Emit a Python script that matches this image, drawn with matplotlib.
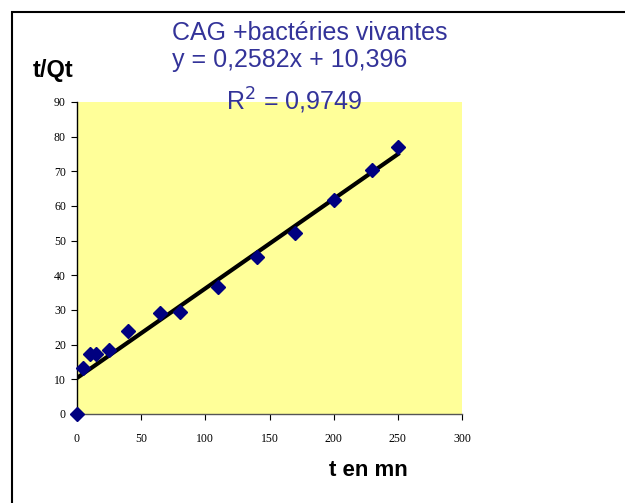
import matplotlib

matplotlib.use("Agg")
import matplotlib.pyplot as plt
from matplotlib.patches import Rectangle

# data
t_min = [0, 5, 10, 15, 25, 40, 65, 80, 110, 140, 170, 200, 230, 250]
t_over_qt = [0, 13.2, 17.2, 17.2, 18.6, 24.0, 29.0, 29.3, 36.5, 45.2, 52.3, 61.7, 70.4, 77.1]
slope = 0.2582
intercept = 10.396
fit_x = [0, 250]
x_ticks = [0, 50, 100, 150, 200, 250, 300]
y_ticks = [0, 10, 20, 30, 40, 50, 60, 70, 80, 90]

text_color = "#333399"

fig = plt.figure(figsize=(6.25, 5.03), dpi=100)
fig.patch.set_facecolor("white")

# outer frame (partly off the picture on right / bottom)
fig.add_artist(Rectangle((12 / 625, -0.1), 1.2, 1 - 12 / 503 + 0.1,
                         transform=fig.transFigure, fill=False,
                         edgecolor="black", linewidth=1.5))

ax = fig.add_axes([77 / 625, 89 / 503, 385 / 625, 312 / 503])
ax.set_facecolor("#FFFF99")
ax.set_xlim(0, 300)
ax.set_ylim(0, 90)
ax.spines["top"].set_visible(False)
ax.spines["right"].set_visible(False)
ax.spines["left"].set_linewidth(1.0)
ax.spines["bottom"].set_linewidth(1.0)
ax.spines["bottom"].set_color("#555555")

ax.set_xticks(x_ticks)
ax.set_yticks(y_ticks)
ax.tick_params(direction="out", length=4, width=0.8, pad=10,
               labelsize=8.5)
ax.tick_params(axis="y", pad=4)
for lab in ax.get_xticklabels() + ax.get_yticklabels():
    lab.set_family("Liberation Serif")

fit_y = [slope * x + intercept for x in fit_x]
ax.plot(fit_x, fit_y, color="black", linewidth=3, zorder=2)
ax.plot(t_min, t_over_qt, linestyle="none", marker="D", markersize=7,
        color="#000080", zorder=3, clip_on=False)

fig.text(172 / 625, 1 - 33 / 503, "CAG +bactéries vivantes", family="Liberation Sans",
         fontsize=18, color=text_color, va="center", ha="left")
fig.text(172 / 625, 1 - 60 / 503, "y = 0,2582x + 10,396", family="Liberation Sans",
         fontsize=18, color=text_color, va="center", ha="left")
fig.text(226 / 625, 1 - 101 / 503, "R$^2$ = 0,9749", family="Liberation Sans",
         fontsize=18, color=text_color, va="center", ha="left")

fig.text(33 / 625, 1 - 70 / 503, "t/Qt", family="Liberation Sans", fontsize=17,
         fontweight="bold", va="center", ha="left")
fig.text(329 / 625, 1 - 470 / 503, "t en mn", family="Liberation Sans", fontsize=16,
         fontweight="bold", va="center", ha="left")

fig.savefig("out.png", dpi=100)
